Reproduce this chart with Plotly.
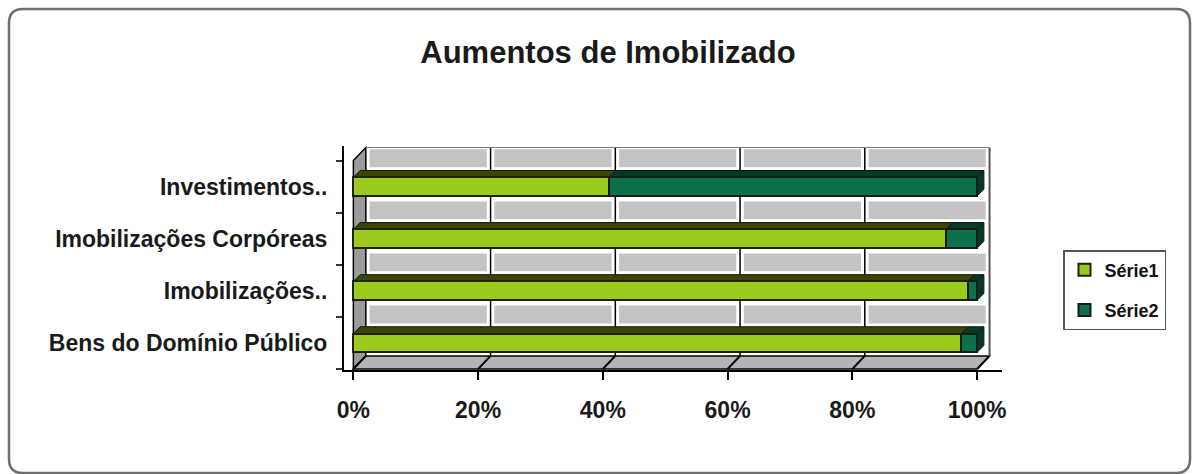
import plotly.graph_objects as go

# data
categories = ["Bens do Domínio Público", "Imobilizações..", "Imobilizações Corpóreas", "Investimentos.."]
serie1 = [97.5, 98.5, 95.0, 41.0]
serie2 = [2.5, 1.5, 5.0, 59.0]
x_ticks = [0, 0.2, 0.4, 0.6, 0.8, 1.0]
x_ticktext = ["0%", "20%", "40%", "60%", "80%", "100%"]

GREEN = "#9acb1c"
GREEN_TOP = "#3b4500"
DKGREEN = "#0c7048"
DKGREEN_TOP = "#033a22"
FONT = "Liberation Sans, Arial, sans-serif"

W, H = 1197, 474
ML, MR, MT, MB = 344, 195, 146, 104
PW, PH = W - ML - MR, H - MT - MB


def px2paper(px, py):
    return (px - ML) / PW, (H - MB - py) / PH


fig = go.Figure()
fig.add_trace(go.Bar(y=list(range(len(categories))), x=serie1, orientation="h", name="<b>Série1</b>",
                     legendgroup="a",
                     marker=dict(color=GREEN, line=dict(color="#1e2200", width=2)), width=0.36))
fig.add_trace(go.Bar(y=list(range(len(categories))), x=serie2, orientation="h", name="<b>Série2</b>",
                     legendgroup="b",
                     marker=dict(color=DKGREEN, line=dict(color="#1a1a1a", width=2)), width=0.36))

shapes = []
dx, dy = 0.02, 0.25  # depth offset of back wall

# side wall and floor
shapes.append(dict(type="path", xref="x", yref="y", layer="below",
                   path=f"M 0,-0.5 L {dx},{-0.5+dy} L {dx},{3.5+dy} L 0,3.5 Z",
                   fillcolor="#9c9c9c", line=dict(color="black", width=1.5)))
shapes.append(dict(type="path", xref="x", yref="y", layer="below",
                   path=f"M 0,-0.5 L 1,-0.5 L {1+dx},{-0.5+dy} L {dx},{-0.5+dy} Z",
                   fillcolor="#b4b4b4", line=dict(color="black", width=1.5)))
for t in x_ticks:
    shapes.append(dict(type="line", xref="x", yref="y", layer="below",
                       x0=t, y0=-0.5, x1=t + dx, y1=-0.5 + dy, line=dict(color="black", width=2)))

# back wall cells between the bars
for k in range(len(categories)):
    for i in range(5):
        shapes.append(dict(type="rect", xref="x", yref="y", layer="below",
                           x0=0.2 * i + dx + 0.004, x1=0.2 * (i + 1) + dx - 0.004,
                           y0=k + 0.35, y1=k + 0.74,
                           fillcolor="#c4c4c4", line=dict(color="white", width=2.5)))
for t in x_ticks[1:-1]:
    shapes.append(dict(type="line", xref="x", yref="y", layer="below",
                       x0=t + dx, y0=-0.5 + dy, x1=t + dx, y1=3.5 + dy, line=dict(color="black", width=1.5)))
shapes.append(dict(type="line", xref="x", yref="y", layer="below",
                   x0=1 + dx, y0=-0.5 + dy, x1=1 + dx, y1=3.5 + dy, line=dict(color="#555", width=2)))
shapes.append(dict(type="line", xref="x", yref="y", layer="below",
                   x0=dx, y0=3.5 + dy, x1=1 + dx, y1=3.5 + dy, line=dict(color="#777", width=1)))

# 3d top faces and end caps of the bars
bdx, bdy, hw = 0.011, 0.13, 0.18
for c, (a, b) in enumerate(zip(serie1, serie2)):
    f1 = a / (a + b)
    for x0, x1, col in [(0, f1, GREEN_TOP), (f1, 1, DKGREEN_TOP)]:
        shapes.append(dict(type="path", xref="x", yref="y", layer="below",
                           path=f"M {x0},{c+hw} L {x1},{c+hw} L {x1+bdx},{c+hw+bdy} L {x0+bdx},{c+hw+bdy} Z",
                           fillcolor=col, line=dict(color="#151515", width=1)))
    shapes.append(dict(type="path", xref="x", yref="y", layer="above",
                       path=f"M 1,{c-hw} L 1,{c+hw} L {1+bdx},{c+hw+bdy} L {1+bdx},{c-hw+bdy} Z",
                       fillcolor=DKGREEN_TOP, line=dict(color="#151515", width=1)))

# rounded outer frame
x0p, y0p, x1p, y1p, r = 9, 9, 1190, 473, 14
path = (f"M {x0p+r},{y0p} L {x1p-r},{y0p} Q {x1p},{y0p} {x1p},{y0p+r} L {x1p},{y1p-r} "
        f"Q {x1p},{y1p} {x1p-r},{y1p} L {x0p+r},{y1p} Q {x0p},{y1p} {x0p},{y1p-r} "
        f"L {x0p},{y0p+r} Q {x0p},{y0p} {x0p+r},{y0p} Z")
out = []
for tok in path.split(" "):
    if "," in tok:
        a, b = tok.split(",")
        pxv, pyv = px2paper(float(a), float(b))
        out.append(f"{pxv:.5f},{pyv:.5f}")
    else:
        out.append(tok)
shapes.append(dict(type="path", xref="paper", yref="paper", layer="below", path=" ".join(out),
                   line=dict(color="#6e6e6e", width=2.5)))

fig.update_layout(
    width=W, height=H,
    margin=dict(l=ML, r=MR, t=MT, b=MB),
    paper_bgcolor="white", plot_bgcolor="white",
    barmode="stack", barnorm="fraction",
    shapes=shapes,
    title=dict(text="<b>Aumentos de Imobilizado</b>", x=608 / W, xanchor="center",
               y=1 - 52 / H, yanchor="middle", font=dict(family=FONT, size=31, color="#1a1a1a")),
    xaxis=dict(range=[-0.015, 1.04], tickvals=x_ticks, ticktext=x_ticktext, showgrid=False,
               zeroline=False, showline=True, linecolor="black", linewidth=2,
               ticks="outside", ticklen=8, tickwidth=2, tickcolor="black", ticklabelstandoff=10,
               tickfont=dict(family=FONT, size=23, color="#1a1a1a", weight="bold")),
    yaxis=dict(range=[-0.52, 3.78], tickvals=list(range(len(categories))), ticktext=categories,
               showgrid=False, zeroline=False, showline=True, linecolor="black", linewidth=2,
               ticks="", ticklabelstandoff=10,
               minor=dict(tickvals=[-0.5, 0.5, 1.5, 2.5, 3.5], ticks="outside", ticklen=6,
                          tickwidth=2, tickcolor="#333"),
               tickfont=dict(family=FONT, size=23, color="#1a1a1a", weight="bold")),
    legend=dict(x=(1063 - ML) / PW, xanchor="left", y=(H - MB - 250) / PH, yanchor="top",
                bordercolor="#555", borderwidth=1.5, font=dict(family=FONT, size=18, color="#111"),
                traceorder="grouped", tracegroupgap=14, itemwidth=30),
    showlegend=True,
)

fig.write_html("out.html", config={"displayModeBar": False},
               post_script="document.body.style.margin='0';")
